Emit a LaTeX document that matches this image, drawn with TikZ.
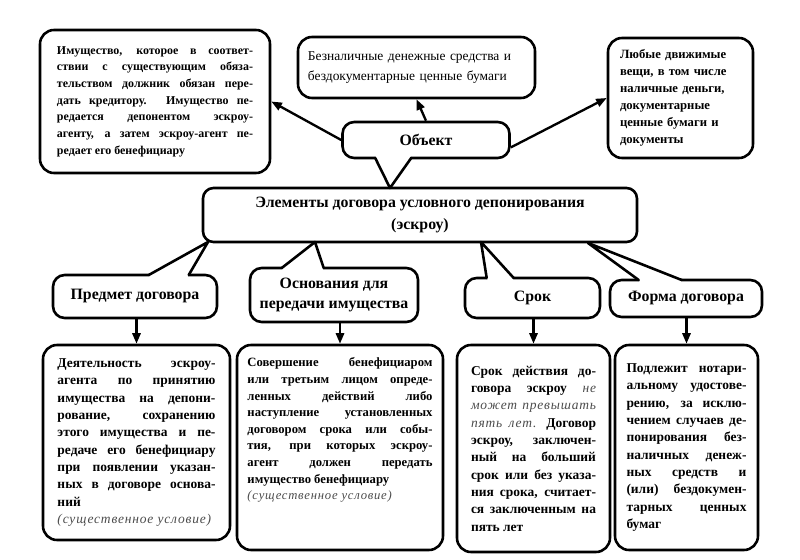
\documentclass[tikz,border=0pt]{standalone}
\usepackage{fontspec}
\setmainfont{Liberation Serif}
\usetikzlibrary{arrows.meta,calc}
\tolerance=10000
\hbadness=10000
\newcommand\remark[1]{{\mdseries\itshape\addfontfeature{LetterSpace=6}\color{black!70}#1}}

\begin{document}
\begin{tikzpicture}[
  x=0.03cm, y=-0.03cm,
  every node/.style={inner sep=0pt},
  object box/.style={draw, line width=2.2pt, rounded corners=12pt, fill=white},
  text box/.style={object box, align=left, font=\fontsize{10.8}{14.5}\selectfont\bfseries},
  term box/.style={object box, align=justify, font=\fontsize{11.5}{14.8}\selectfont\bfseries},
  main box/.style={object box, rounded corners=9pt, align=center, font=\fontsize{13.5}{18.6}\selectfont\bfseries},
  callout/.style={draw, line width=2.2pt, fill=white, rounded corners=10pt, align=center,
    font=\fontsize{13.5}{17}\selectfont\bfseries},
  pointer/.style={line width=2.2pt, line join=round, line cap=round},
  relation/.style={-{Triangle[length=9pt,width=7pt]}, line width=2pt}
]
\useasboundingbox (0,0) rectangle (800,560);

% -----------------------------------------------------------------------------
% Central node: the contract.
% -----------------------------------------------------------------------------
\node[main box, minimum width=13.02cm, minimum height=1.62cm] (elements) at (420,215)
  {Элементы договора условного депонирования\\(эскроу)};

% -----------------------------------------------------------------------------
% Upper row: kinds of object.
% -----------------------------------------------------------------------------
\node[object box, minimum width=6.9cm, minimum height=4.29cm, text width=5.88cm,
  align=justify, font=\fontsize{10.2}{14.2}\selectfont\bfseries] (propertyBox) at (155,101.5)
  {Имущество, которое в соответ-\linebreak ствии с существующим обяза-\linebreak
   тельством должник обязан пере-\linebreak дать кредитору. Имущество пе-\linebreak
   редается депонентом эскроу-\linebreak агенту, а затем эскроу-агент пе-\linebreak
   редает его бенефициару};

\node[object box, minimum width=7.11cm, minimum height=1.83cm, text width=6.51cm,
  align=left, font=\fontsize{11.5}{17}\selectfont] (cashlessBox) at (416.5,67.5)
  {Безналичные денежные средства и\\бездокументарные ценные бумаги};

\node[text box, minimum width=4.35cm, minimum height=3.6cm, text width=3.63cm] (movablesBox) at (680.5,98)
  {Любые движимые\\вещи, в том числе\\наличные деньги,\\документарные\\ценные бумаги и\\документы};

% -----------------------------------------------------------------------------
% Callouts and their pointers.
% -----------------------------------------------------------------------------
\node[callout, minimum width=5.01cm, minimum height=1.08cm] (objectCall) at (426,140) {Объект};
\node[callout, minimum width=4.92cm, minimum height=1.29cm] (subjectCall) at (135,296.5) {Предмет договора};
\node[callout, minimum width=5.04cm, minimum height=1.62cm] (groundsCall) at (334,295)
  {Основания для\\передачи имущества};
\node[callout, minimum width=4.05cm, minimum height=1.2cm] (termCall) at (532.5,298) {Срок};
\node[callout, minimum width=4.56cm, minimum height=1.11cm] (formCall) at (686,298.5) {Форма договора};

% pointer tips on the central box
\coordinate (objectTip) at (390,188);
\coordinate (subjectTip) at (208,242);
\coordinate (groundsTip) at (315,242);
\coordinate (termTip) at (481,242);
\coordinate (formTip) at (588,243);

\fill[white] ($(objectCall.south west)+(35,-3.5)$) -- ($(objectCall.south west)+(34,-1.3)$) -- (objectTip)
  -- ($(objectCall.south west)+(70,-1.3)$) -- ($(objectCall.south west)+(69,-3.5)$) -- cycle;
\draw[pointer] ($(objectCall.south west)+(34,-1.3)$) -- (objectTip) -- ($(objectCall.south west)+(70,-1.3)$);

\fill[white] ($(subjectCall.north west)+(98,3.5)$) -- ($(subjectCall.north west)+(97,1.3)$) -- (subjectTip)
  -- ($(subjectCall.north west)+(137,1.3)$) -- ($(subjectCall.north west)+(136,3.5)$) -- cycle;
\draw[pointer] ($(subjectCall.north west)+(97,1.3)$) -- (subjectTip) -- ($(subjectCall.north west)+(137,1.3)$);

\fill[white] ($(groundsCall.north west)+(34,3.5)$) -- ($(groundsCall.north west)+(33,1.3)$) -- (groundsTip)
  -- ($(groundsCall.north west)+(75,1.3)$) -- ($(groundsCall.north west)+(74,3.5)$) -- cycle;
\draw[pointer] ($(groundsCall.north west)+(33,1.3)$) -- (groundsTip) -- ($(groundsCall.north west)+(75,1.3)$);

\fill[white] ($(termCall.north west)+(24,3.5)$) -- ($(termCall.north west)+(23,1.3)$) -- (termTip)
  -- ($(termCall.north west)+(50,1.3)$) -- ($(termCall.north west)+(49,3.5)$) -- cycle;
\draw[pointer] ($(termCall.north west)+(23,1.3)$) -- (termTip) -- ($(termCall.north west)+(50,1.3)$);

\fill[white] ($(formCall.north west)+(31,3.5)$) -- ($(formCall.north west)+(30,1.3)$) -- (formTip)
  -- ($(formCall.north west)+(73,1.3)$) -- ($(formCall.north west)+(72,3.5)$) -- cycle;
\draw[pointer] ($(formCall.north west)+(30,1.3)$) -- (formTip) -- ($(formCall.north west)+(73,1.3)$);

% -----------------------------------------------------------------------------
% Lower row: the elements in detail.
% -----------------------------------------------------------------------------
\node[term box, minimum width=5.61cm, minimum height=5.85cm, text width=4.74cm] (subjectBox) at (136.5,442.5)
  {Деятельность эскроу-\linebreak агента по принятию\linebreak имущества на депони-\linebreak
   рование, сохранению\linebreak этого имущества и пе-\linebreak редаче его бенефициару\linebreak
   при появлении указан-\linebreak ных в договоре основа-\linebreak ний\\
   \remark{(существенное условие)}};

\node[term box, minimum width=6.18cm, minimum height=6.15cm, text width=5.55cm,
  font=\fontsize{10.8}{14.2}\selectfont\bfseries] (groundsBox) at (340,447.5)
  {Совершение бенефициаром\linebreak или третьим лицом опреде-\linebreak ленных действий либо\linebreak
   наступление установленных\linebreak договором срока или собы-\linebreak тия, при которых эскроу-\linebreak
   агент должен передать\linebreak имущество бенефициару\\
   \remark{(существенное условие)}\rule[-32pt]{0pt}{1pt}};

\node[term box, minimum width=4.59cm, minimum height=6.21cm, text width=3.75cm] (termBox) at (533.5,448.5)
  {Срок действия до-\linebreak говора эскроу \remark{не}\linebreak \remark{может превышать}\linebreak
   \remark{пять лет.} Договор\linebreak эскроу, заключен-\linebreak ный на больший\linebreak
   срок или без указа-\linebreak ния срока, считает-\linebreak ся заключенным на\linebreak пять лет};

\node[term box, minimum width=4.29cm, minimum height=6.15cm, text width=3.6cm] (formBox) at (686.5,447.5)
  {Подлежит нотари-\linebreak альному удостове-\linebreak рению, за исклю-\linebreak
   чением случаев де-\linebreak понирования без-\linebreak наличных денеж-\linebreak
   ных средств и\linebreak (или) бездокумен-\linebreak тарных ценных\linebreak бумаг};

% -----------------------------------------------------------------------------
% Arrows.
% -----------------------------------------------------------------------------
\draw[relation] (objectCall.west) -- (propertyBox.east);
\draw[relation] (objectCall.north) -- (cashlessBox.south);
\draw[relation] (objectCall.-5) -- (movablesBox.west);

\draw[relation] (subjectCall.south -| subjectBox.north) -- (subjectBox.north);
\draw[relation] (groundsCall.south -| groundsBox.north) -- (groundsBox.north);
\draw[relation] (termCall.south -| termBox.north) -- (termBox.north);
\draw[relation] (formCall.south -| formBox.north) -- (formBox.north);

\end{tikzpicture}
\end{document}
